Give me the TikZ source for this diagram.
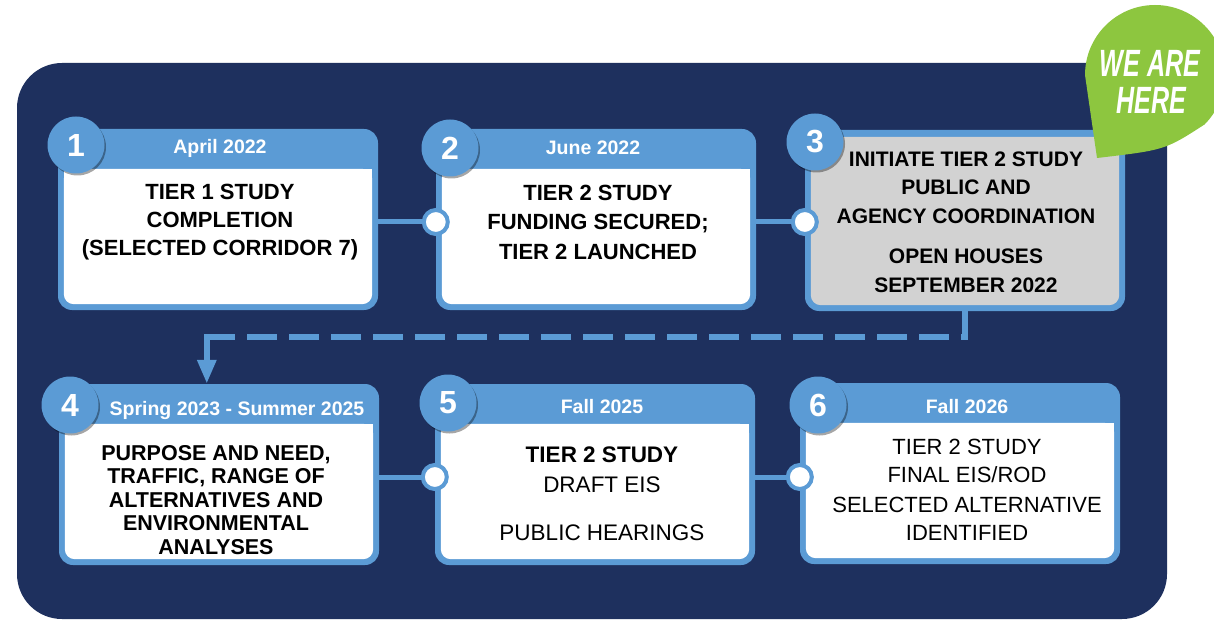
\documentclass[tikz,border=0pt]{standalone}
\usepackage{fontspec}
\setmainfont{Liberation Sans}
\newfontfamily\condfont[FakeStretch=0.66]{Liberation Sans}
\usetikzlibrary{arrows.meta,calc,shadows}
\definecolor{navy}{HTML}{1E305E}
\definecolor{tlblue}{HTML}{5B9BD5}
\definecolor{tlgray}{HTML}{D2D2D2}
\definecolor{tlgreen}{HTML}{8DC63F}
\newcommand\tlbox[4]{%
  \node[outerbox] (#1) at (#2+160,#3+90.5) {};
  \fill[#4, rounded corners=10pt] ($(#1.north west)+(6,40)$) rectangle ($(#1.south east)+(-6,-6)$);
  \fill[#4] ($(#1.north west)+(6,40)$) rectangle ($(#1.north east)+(-6,70)$);
}
\begin{document}
\begin{tikzpicture}[x=1pt,y=-1pt,
  outerbox/.style={fill=tlblue, rounded corners=14pt, minimum width=320pt, minimum height=181pt, inner sep=0pt},
  numcirc/.style={circle, fill=tlblue, minimum size=57pt, inner sep=0pt, text=white,
    font=\fontsize{32}{32}\selectfont\bfseries,
    drop shadow={shadow xshift=1.5pt, shadow yshift=-2pt, opacity=0.35, fill=black}},
  hdr/.style={text=white, inner sep=0pt, font=\fontsize{19.5}{20}\selectfont\bfseries},
  body/.style={align=center, inner sep=0pt, text=black},
  conn/.style={draw=tlblue, line width=5pt},
  joint/.style={circle, fill=white, draw=tlblue, line width=4pt, minimum size=24pt, inner sep=0pt},
  dashline/.style={draw=tlblue, line width=6pt, dash pattern=on 30pt off 12pt},
  arrline/.style={draw=tlblue, line width=6pt, -{Triangle[length=24pt,width=18pt]}},
  bubtext/.style={text=white, inner sep=0pt,
    font=\condfont\fontsize{38}{38}\selectfont\bfseries\itshape},
]
\useasboundingbox (0,0) rectangle (1214,620);
\fill[white] (0,0) rectangle (1214,620);
\node[fill=navy, rounded corners=45pt, minimum width=1150pt, minimum height=556pt, inner sep=0pt] (bg) at (592,341) {};

% boxes
\tlbox{b1}{58}{129}{white}
\tlbox{b2}{436}{129}{white}
\node[outerbox] (b3) at (965,220.5) {};
\fill[tlgray, rounded corners=10pt] ($(b3.north west)+(6,7)$) rectangle ($(b3.south east)+(-6,-6)$);
\tlbox{b4}{59}{384}{white}
\tlbox{b5}{435}{384}{white}
\tlbox{b6}{800}{383}{white}

% connectors
\coordinate (j2) at (b2.west |- 0,222);
\coordinate (j3) at (b3.west |- 0,222);
\coordinate (j5) at (b5.west |- 0,477);
\coordinate (j6) at (b6.west |- 0,477);
\draw[conn] (b1.east |- j2) -- (j2);
\draw[conn] (b2.east |- j3) -- (j3);
\draw[conn] (b4.east |- j5) -- (j5);
\draw[conn] (b5.east |- j6) -- (j6);
\node[joint] (k2) at (j2) {};
\node[joint] (k3) at (j3) {};
\node[joint] (k5) at (j5) {};
\node[joint] (k6) at (j6) {};

% number circles
\node[numcirc] (n1) at (76,145) {1};
\node[numcirc] (n2) at (450,148) {2};
\node[numcirc] (n3) at (815,142) {3};
\node[numcirc] (n4) at (70,405) {4};
\node[numcirc] (n5) at (448,403) {5};
\node[numcirc] (n6) at (818,405) {6};

% headers
\node[hdr] (h1) at (220,148) {April 2022};
\node[hdr] (h2) at (593,148) {June 2022};
\node[hdr] (h4) at (237,410) {Spring 2023 - Summer 2025};
\node[hdr] (h5) at (602,407) {Fall 2025};
\node[hdr] (h6) at (967,407) {Fall 2026};

% bodies
\node[body, font=\fontsize{22}{28}\selectfont\bfseries] (t1) at (220,222)
  {TIER 1 STUDY\\COMPLETION\\(SELECTED CORRIDOR 7)};
\node[body, font=\fontsize{22}{29.5}\selectfont\bfseries] (t2) at (598,222)
  {TIER 2 STUDY\\FUNDING SECURED;\\TIER 2 LAUNCHED};
\node[body, font=\fontsize{21}{28.5}\selectfont\bfseries] (t3) at (966,222)
  {INITIATE TIER 2 STUDY\\PUBLIC AND\\AGENCY COORDINATION\\[12pt]OPEN HOUSES\\SEPTEMBER 2022};
\node[body, font=\fontsize{21.5}{23.5}\selectfont\bfseries] (t4) at (216,500)
  {PURPOSE AND NEED,\\TRAFFIC, RANGE OF\\ALTERNATIVES AND\\ENVIRONMENTAL\\ANALYSES};
\node[body, font=\fontsize{22.5}{30}\selectfont] (t5) at (602,494)
  {{\bfseries TIER 2 STUDY}\\DRAFT EIS\\[18pt]PUBLIC HEARINGS};
\node[body, font=\fontsize{22}{28}\selectfont] (t6) at (967,490)
  {TIER 2 STUDY\\FINAL EIS/ROD\\[2pt]SELECTED ALTERNATIVE\\IDENTIFIED};

% dashed arrow from 3 to 4
\coordinate (a4) at ($(b4.north west)+(148,0)$);
\coordinate (d1) at ($(b3.south)+(0,26)$);
\coordinate (d2) at (a4 |- d1);
\draw[dashline] (b3.south) -- (d1) -- (d2);
\draw[arrline] ($(d2)+(0,-3)$) -- (a4);

% we are here bubble
\fill[tlgreen] (1097,158) -- (1085,75) arc[start angle=180, end angle=405, radius=70]
  .. controls (1165,150) .. (1097,158) -- cycle;
\node[bubtext] (we1) at (1150,63) {WE ARE};
\node[bubtext] (we2) at (1151,100) {HERE};
\end{tikzpicture}
\end{document}
